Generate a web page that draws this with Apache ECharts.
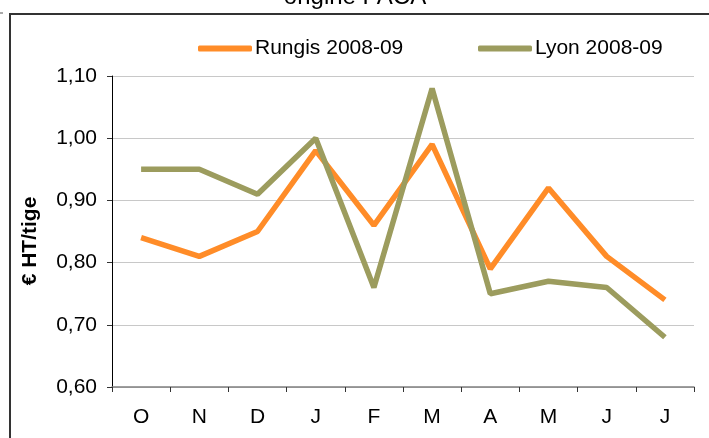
<!DOCTYPE html>
<html><head><meta charset="utf-8">
<script src="https://cdn.jsdelivr.net/npm/echarts@6/dist/echarts.min.js"></script>
<style>html,body{margin:0;padding:0;background:#fff}#c{width:709px;height:438px}</style>
</head><body><div id="c"></div>
<script>
const categories = ['O','N','D','J','F','M','A','M','J','J'];
const rungis = [0.84,0.81,0.85,0.98,0.86,0.99,0.79,0.92,0.81,0.74];
const lyon = [0.95,0.95,0.91,1.00,0.76,1.08,0.75,0.77,0.76,0.68];
const seriesNames = ['Rungis 2008-09','Lyon 2008-09'];
const titleText = 'origine PACA';
const yName = '€ HT/tige';

const chart = echarts.init(document.getElementById('c'));
const font = 'Liberation Sans, Arial, sans-serif';
const legendBase = {itemWidth:54, itemHeight:6, icon:'roundRect', top:33,
  textStyle:{fontSize:21,color:'#000',padding:[0,0,0,-2]}};
chart.setOption({
  animation:false,
  textStyle:{fontFamily:font},
  graphic:[
    {type:'rect',shape:{x:10,y:14,width:710,height:440},style:{fill:'none',stroke:'#333',lineWidth:2},z:-1},
    {type:'line',shape:{x1:0,y1:13,x2:3,y2:13},style:{stroke:'#555',lineWidth:1}},
    {type:'text',x:355,y:-3,style:{text:titleText,fontSize:24,fill:'#000',fontFamily:font,align:'center',verticalAlign:'middle'}},
    {type:'text',x:30,y:241,rotation:Math.PI/2,style:{text:yName,fontSize:21,fontWeight:'bold',fill:'#000',fontFamily:font,align:'center',verticalAlign:'middle'}}
  ],
  legend:[
    Object.assign({left:193, data:[seriesNames[0]]}, legendBase),
    Object.assign({left:473, data:[seriesNames[1]]}, legendBase)
  ],
  grid:{left:112,right:15,top:76,bottom:51},
  xAxis:{
    type:'category', data:categories, boundaryGap:true,
    axisLine:{lineStyle:{color:'#808080',width:1.5}},
    axisTick:{show:true,length:5,lineStyle:{color:'#333'}},
    axisLabel:{fontSize:21,color:'#000',margin:20}
  },
  yAxis:{
    type:'value', min:0.6, max:1.1, interval:0.1,
    axisLine:{show:true,lineStyle:{color:'#000',width:1}},
    axisTick:{show:true,length:5,lineStyle:{color:'#333'}},
    splitLine:{lineStyle:{color:'#c8c8c8',width:1}},
    axisLabel:{fontSize:21,color:'#000',margin:15,formatter:v=>v.toFixed(2).replace('.',',')}
  },
  series:[
    {name:seriesNames[0],type:'line',data:rungis,symbol:'none',lineStyle:{color:'#FF8C28',width:5.5},itemStyle:{color:'#FF8C28'}},
    {name:seriesNames[1],type:'line',data:lyon,symbol:'none',lineStyle:{color:'#9C9C5E',width:5.5},itemStyle:{color:'#9C9C5E'}}
  ]
});
</script></body></html>
